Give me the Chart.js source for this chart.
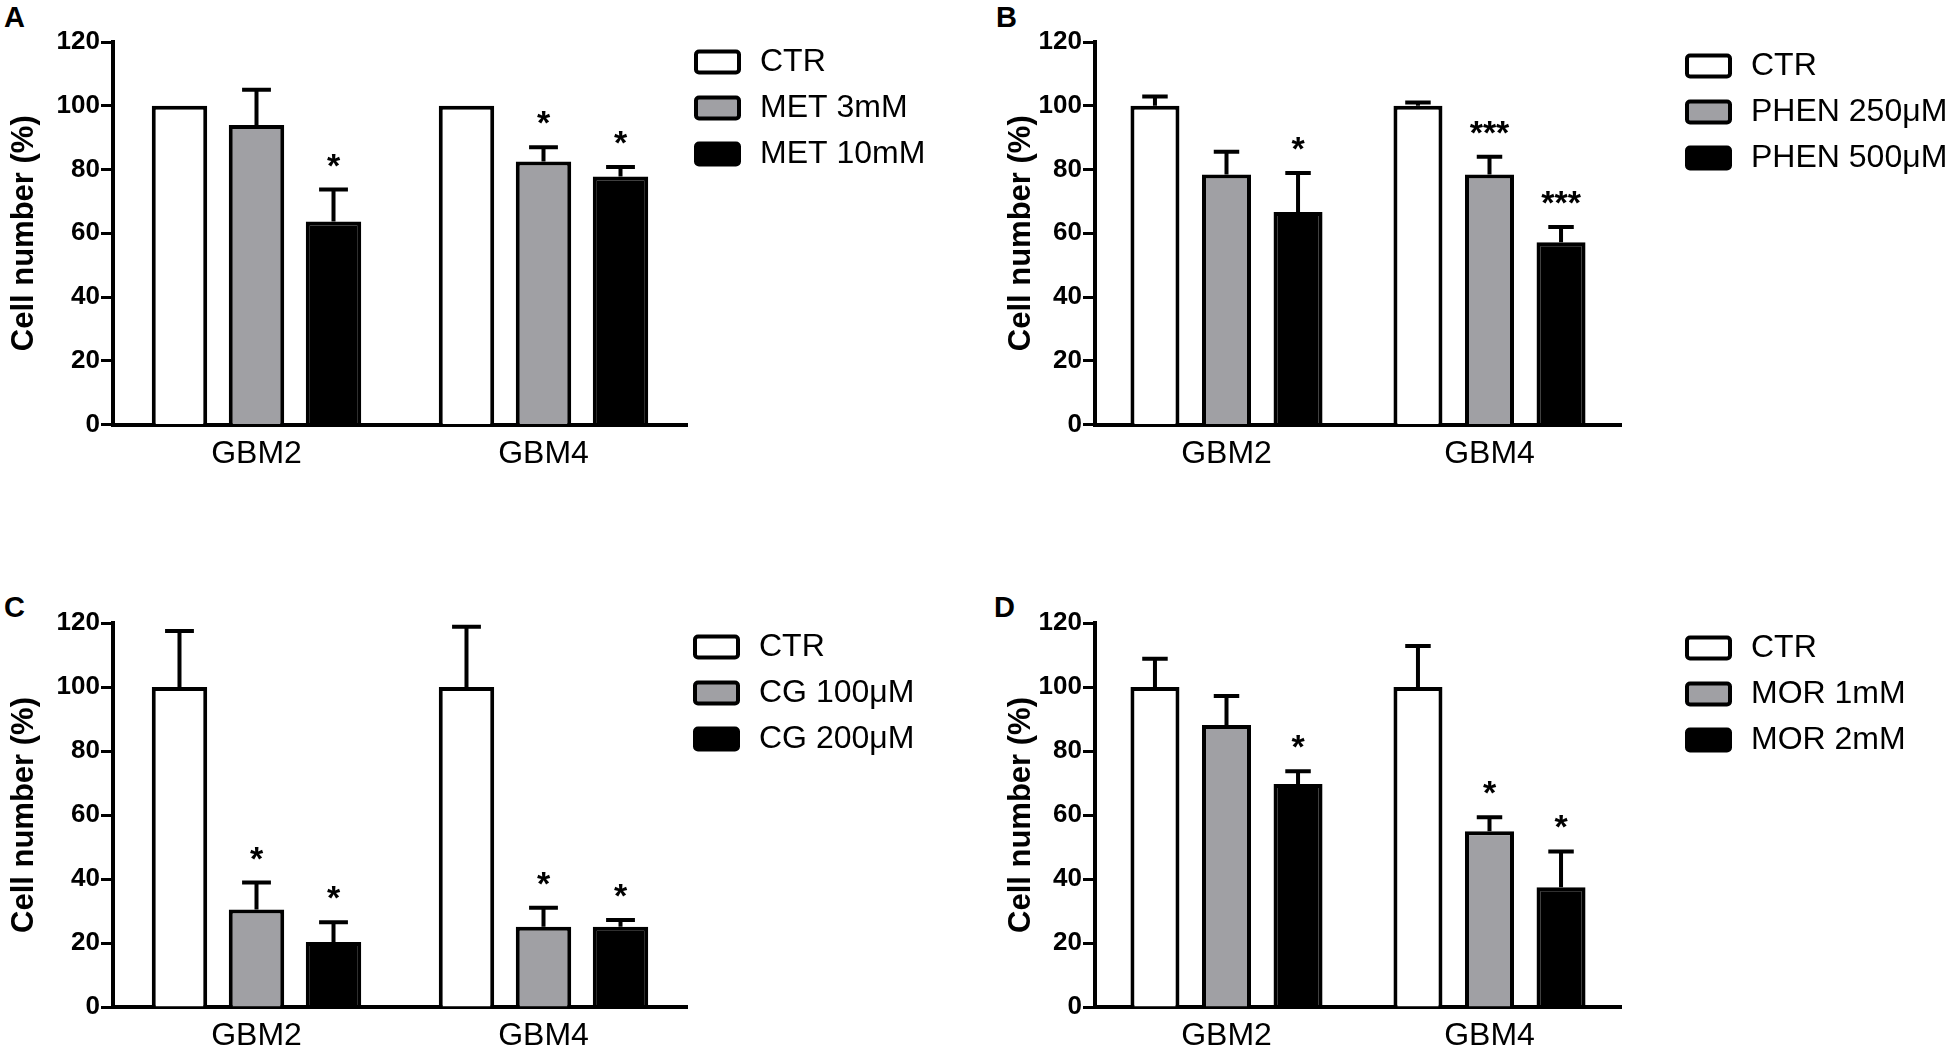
<!DOCTYPE html>
<html>
<head>
<meta charset="utf-8">
<script src="https://cdn.jsdelivr.net/npm/chart.js@4.4.1/dist/chart.umd.min.js"></script>
<style>
  body { margin: 0; background: #fff; width: 1950px; height: 1056px; position: relative; overflow: hidden; }
  .panel { position: absolute; width: 975px; height: 528px; }
  .tag { position: absolute; font: bold 29px "Liberation Sans", Arial, sans-serif; line-height: 1; color: #000; }
</style>
</head>
<body>
<div class="tag" style="left:4px;top:3px">A</div>
<div class="tag" style="left:996px;top:3px">B</div>
<div class="tag" style="left:4px;top:593px">C</div>
<div class="tag" style="left:994px;top:593px">D</div>
<div class="panel" style="left:0;top:0"><canvas id="chartA"></canvas></div>
<div class="panel" style="left:975px;top:0"><canvas id="chartB"></canvas></div>
<div class="panel" style="left:0;top:528px"><canvas id="chartC"></canvas></div>
<div class="panel" style="left:975px;top:528px"><canvas id="chartD"></canvas></div>
<script>
// cell lines on the x axis
const categories = ['GBM2', 'GBM4'];
const yTicks = [0, 20, 40, 60, 80, 100, 120];

// A - metformin
const metLabels = ['CTR', 'MET 3mM', 'MET 10mM'];
const metCtr = [100, 100];
const met3 = [94, 82.5];
const met10 = [63.7, 77.8];
const metCtrErr = [0, 0];
const met3Err = [11, 4.5];
const met10Err = [10, 3];
const met3Stars = ['', '*'];
const met10Stars = ['*', '*'];

// B - phenformin
const phenLabels = ['CTR', 'PHEN 250μM', 'PHEN 500μM'];
const phenCtr = [100, 100];
const phen250 = [78.4, 78.4];
const phen500 = [66.7, 57.2];
const phenCtrErr = [2.9, 1];
const phen250Err = [7.2, 5.6];
const phen500Err = [12.2, 4.8];
const phen250Stars = ['', '***'];
const phen500Stars = ['*', '***'];

// C - cycloguanil
const cgLabels = ['CTR', 'CG 100μM', 'CG 200μM'];
const cgCtr = [100, 100];
const cg100 = [30.5, 25.1];
const cg200 = [20.3, 25.1];
const cgCtrErr = [17.5, 18.8];
const cg100Err = [8.4, 5.9];
const cg200Err = [6.2, 2.1];
const cg100Stars = ['*', '*'];
const cg200Stars = ['*', '*'];

// D - moroxydine
const morLabels = ['CTR', 'MOR 1mM', 'MOR 2mM'];
const morCtr = [100, 100];
const mor1 = [88.1, 54.9];
const mor2 = [69.7, 37.4];
const morCtrErr = [8.8, 12.8];
const mor1Err = [9.1, 4.4];
const mor2Err = [4, 11.2];
const mor1Stars = ['', '*'];
const mor2Stars = ['*', '*'];

const fills = ['#ffffff', '#a0a0a4', '#000000'];
const FONT = '"Liberation Sans", Arial, sans-serif';

Chart.defaults.font.family = FONT;
Chart.defaults.color = '#000';

// error bars, significance stars and the legend boxes
function extras(errors, stars, lay) {
  return {
    id: 'extras',
    afterDatasetsDraw(chart) {
      const ctx = chart.ctx;
      const y = chart.scales.y;
      ctx.save();
      ctx.strokeStyle = '#000';
      ctx.fillStyle = '#000';
      ctx.lineWidth = 4;
      chart.data.datasets.forEach((ds, i) => {
        chart.getDatasetMeta(i).data.forEach((bar, j) => {
          const err = errors[i][j];
          const top = y.getPixelForValue(ds.data[j] + err);
          if (err > 0) {
            const half = bar.width * 0.26;
            ctx.beginPath();
            ctx.moveTo(bar.x, bar.y);
            ctx.lineTo(bar.x, top);
            ctx.moveTo(bar.x - half, top);
            ctx.lineTo(bar.x + half, top);
            ctx.stroke();
          }
          const s = stars[i][j];
          if (s) {
            ctx.font = 'bold 34px ' + FONT;
            ctx.textAlign = 'center';
            ctx.textBaseline = 'alphabetic';
            ctx.fillText(s, bar.x, top - 33 + 20);
          }
        });
      });
      ctx.restore();
    },
    afterDraw(chart) {
      const ctx = chart.ctx;
      ctx.save();
      chart.data.datasets.forEach((ds, i) => {
        const cy = lay.legendY + i * 46;
        const bx = lay.legendX, bw = 47, bh = 25;
        ctx.beginPath();
        ctx.roundRect(bx + 2, cy - bh / 2 + 2, bw - 4, bh - 4, 3);
        ctx.fillStyle = ds.backgroundColor;
        ctx.fill();
        ctx.lineWidth = 4;
        ctx.strokeStyle = '#000';
        ctx.stroke();
        ctx.fillStyle = '#000';
        ctx.font = '32px ' + FONT;
        ctx.textAlign = 'left';
        ctx.textBaseline = 'middle';
        ctx.fillText(ds.label, bx + bw + 19, cy);
      });
      ctx.restore();
    }
  };
}

function makeChart(id, labels, values, errors, stars, lay) {
  return new Chart(document.getElementById(id), {
    type: 'bar',
    data: {
      labels: categories,
      datasets: labels.map((name, i) => ({
        label: name,
        data: values[i],
        backgroundColor: fills[i],
        borderColor: '#000',
        borderWidth: 4,
        barPercentage: lay.barPct,
        categoryPercentage: lay.catPct
      }))
    },
    options: {
      responsive: true,
      maintainAspectRatio: false,
      animation: false,
      layout: { padding: { left: 0, top: lay.top, right: lay.right, bottom: lay.bottom } },
      plugins: { legend: { display: false }, tooltip: { enabled: false } },
      scales: {
        x: {
          grid: { display: false, drawTicks: false },
          border: { display: true, color: '#000', width: 4 },
          ticks: { font: { size: 32 }, padding: 10, color: '#000' },
          afterFit(scale) { scale.height = 45; }
        },
        y: {
          min: 0,
          max: 120,
          afterBuildTicks(scale) { scale.ticks = yTicks.map(v => ({ value: v })); },
          grid: { drawOnChartArea: false, drawTicks: true, tickLength: 12, tickWidth: 3, tickColor: '#000' },
          border: { display: true, color: '#000', width: 4 },
          ticks: { font: { size: 26, weight: 'bold' }, padding: 1, color: '#000' },
          title: { display: true, text: 'Cell number (%)', font: { size: 31, weight: 'bold' }, padding: { top: lay.titlePad, bottom: 0 }, color: '#000' },
          afterFit(scale) { scale.width = lay.yWidth; }
        }
      }
    },
    plugins: [extras(errors, stars, lay)]
  });
}

const layA = { top: 42, right: 288, bottom: 58.5, yWidth: 113, titlePad: 5.5, legendX: 694, legendY: 62, barPct: 0.72, catPct: 0.805 };
const layB = { top: 42, right: 329, bottom: 58.5, yWidth: 120, titlePad: 27.5, legendX: 710, legendY: 66, barPct: 0.685, catPct: 0.816 };
const layC = { top: 95, right: 288, bottom: 4, yWidth: 113, titlePad: 5.5, legendX: 693, legendY: 119, barPct: 0.72, catPct: 0.805 };
const layD = { top: 95, right: 329, bottom: 4, yWidth: 120, titlePad: 27.5, legendX: 710, legendY: 120, barPct: 0.685, catPct: 0.816 };

makeChart('chartA', metLabels, [metCtr, met3, met10], [metCtrErr, met3Err, met10Err], [['', ''], met3Stars, met10Stars], layA);
makeChart('chartB', phenLabels, [phenCtr, phen250, phen500], [phenCtrErr, phen250Err, phen500Err], [['', ''], phen250Stars, phen500Stars], layB);
makeChart('chartC', cgLabels, [cgCtr, cg100, cg200], [cgCtrErr, cg100Err, cg200Err], [['', ''], cg100Stars, cg200Stars], layC);
makeChart('chartD', morLabels, [morCtr, mor1, mor2], [morCtrErr, mor1Err, mor2Err], [['', ''], mor1Stars, mor2Stars], layD);
</script>
</body>
</html>
